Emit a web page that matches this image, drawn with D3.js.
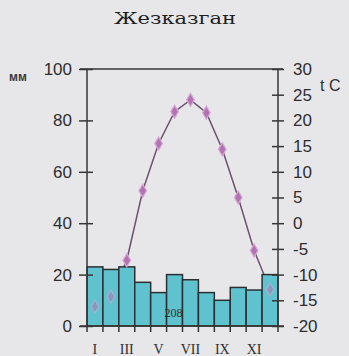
<!DOCTYPE html>
<html>
<head>
<meta charset="utf-8">
<script src="https://cdn.jsdelivr.net/npm/d3@7"></script>
<style>
  html, body { margin: 0; padding: 0; background: #e7e7e9; }
  svg { display: block; }
</style>
</head>
<body>
<svg id="chart" width="349" height="356"></svg>
<script>
// Climate diagram: monthly precipitation (bars) and mean temperature (line)
const months = ["I","II","III","IV","V","VI","VII","VIII","IX","X","XI","XII"];
const precipitation = [23, 22, 23, 17, 13, 20, 18, 13, 10, 15, 14, 20];
const temperature = [-16.2, -14.3, -7.2, 6.3, 15.5, 21.7, 24, 21.5, 14.4, 5.0, -5.3, -12.9];
const precipTicks = [0, 20, 40, 60, 80, 100];
const tempTicks = [-20, -15, -10, -5, 0, 5, 10, 15, 20, 25, 30];
const monthLabels = ["I","III","V","VII","IX","XI"];
const title = "Жезказган";
const annualTotal = 208;

const svg = d3.select("#chart");
const plotLeft = 87, plotRight = 278, plotTop = 69, plotBottom = 326;
const axisColor = "#363636";
const textColor = "#2e2e2e";
const sans = "'Liberation Sans', Arial, sans-serif";
const serif = "'Liberation Serif', 'Times New Roman', serif";

const x = d3.scaleBand().domain(months).range([plotLeft, plotRight]).paddingInner(0).paddingOuter(0);
const yP = d3.scaleLinear().domain([0, 100]).range([plotBottom, plotTop]);
const yT = d3.scaleLinear().domain([-20, 30]).range([plotBottom, plotTop]);
const cx = i => x(months[i]) + x.bandwidth() / 2;

// Title
svg.append("text")
  .attr("x", 175).attr("y", 24)
  .attr("text-anchor", "middle")
  .attr("font-family", "'DejaVu Serif', serif")
  .attr("font-size", 17)
  .attr("textLength", 122)
  .attr("lengthAdjust", "spacingAndGlyphs")
  .attr("fill", "#1e1e1e")
  .text(title);

// Temperature line (drawn first, bars sit above it)
const line = d3.line()
  .x((d, i) => cx(i))
  .y(d => yT(d));

svg.append("path")
  .datum(temperature)
  .attr("d", line)
  .attr("fill", "none")
  .attr("stroke", "#6e516e")
  .attr("stroke-width", 1.5);

// Precipitation bars
svg.append("g").selectAll("rect")
  .data(precipitation)
  .join("rect")
  .attr("x", (d, i) => x(months[i]))
  .attr("y", d => yP(d))
  .attr("width", x.bandwidth())
  .attr("height", d => yP(0) - yP(d))
  .attr("fill", "#5ec3cf")
  .attr("stroke", "#2b2f33")
  .attr("stroke-width", 1.5);

// Temperature markers; those inside a bar show through it faintly
const diamond = d3.symbol().type(d3.symbolDiamond).size(50);
svg.append("g").selectAll("path")
  .data(temperature)
  .join("path")
  .attr("d", diamond)
  .attr("transform", (d, i) => `translate(${cx(i)},${yT(d)})`)
  .attr("fill", "#b274b0")
  .attr("stroke", "#d7a6d4")
  .attr("stroke-width", 1.2)
  .attr("opacity", (d, i) => yT(d) > yP(precipitation[i]) ? 0.55 : 1);

// Annual precipitation total
svg.append("text")
  .attr("x", x("VII") - 9)
  .attr("y", 317)
  .attr("text-anchor", "middle")
  .attr("font-family", serif)
  .attr("font-size", 12)
  .attr("fill", textColor)
  .text(annualTotal);

// Top frame line
svg.append("line")
  .attr("x1", plotLeft - 7).attr("x2", plotRight + 5)
  .attr("y1", plotTop).attr("y2", plotTop)
  .attr("stroke", axisColor).attr("stroke-width", 1.5);

// Left axis (precipitation, mm)
const gL = svg.append("g")
  .attr("transform", `translate(${plotLeft},0)`)
  .call(d3.axisLeft(yP).tickValues(precipTicks).tickSize(8).tickPadding(7));
gL.selectAll(".tick line").attr("x1", 6);
gL.select(".domain").attr("d", `M0,${plotTop}V${plotBottom}`);

// Right axis (temperature, °C)
const gR = svg.append("g")
  .attr("transform", `translate(${plotRight},0)`)
  .call(d3.axisRight(yT).tickValues(tempTicks).tickSize(6).tickPadding(9)
    .tickFormat(d => String(d)));
gR.selectAll(".tick line").attr("x1", -6);
gR.select(".domain").attr("d", `M0,${plotTop}V${plotBottom}`);

[gL, gR].forEach(g => {
  g.selectAll("line, path").attr("stroke", axisColor).attr("stroke-width", 1.5);
  g.selectAll("text")
    .attr("font-family", sans)
    .attr("font-size", 17)
    .attr("fill", textColor);
});

// Bottom axis: baseline, boundary ticks and month labels
svg.append("line")
  .attr("x1", plotLeft - 7).attr("x2", plotRight + 6)
  .attr("y1", plotBottom).attr("y2", plotBottom)
  .attr("stroke", axisColor).attr("stroke-width", 1.5);

const bounds = months.map(m => x(m)).concat([plotRight]);
svg.append("g").selectAll("line")
  .data(bounds)
  .join("line")
  .attr("x1", d => d).attr("x2", d => d)
  .attr("y1", plotBottom).attr("y2", plotBottom + 6)
  .attr("stroke", axisColor).attr("stroke-width", 1.5);

svg.append("g").selectAll("text")
  .data(monthLabels)
  .join("text")
  .attr("x", d => x(d) + x.bandwidth() / 2)
  .attr("y", 354)
  .attr("text-anchor", "middle")
  .attr("font-family", serif)
  .attr("font-size", 14)
  .attr("fill", textColor)
  .text(d => d);

// Axis unit labels
svg.append("text")
  .attr("x", 9).attr("y", 81)
  .attr("font-family", sans).attr("font-size", 12)
  .attr("font-weight", "bold")
  .attr("fill", "#3a3a3a")
  .text("мм");

svg.append("text")
  .attr("x", 320).attr("y", 91)
  .attr("font-family", sans).attr("font-size", 16)
  .attr("fill", textColor)
  .text("t C");
</script>
</body>
</html>
